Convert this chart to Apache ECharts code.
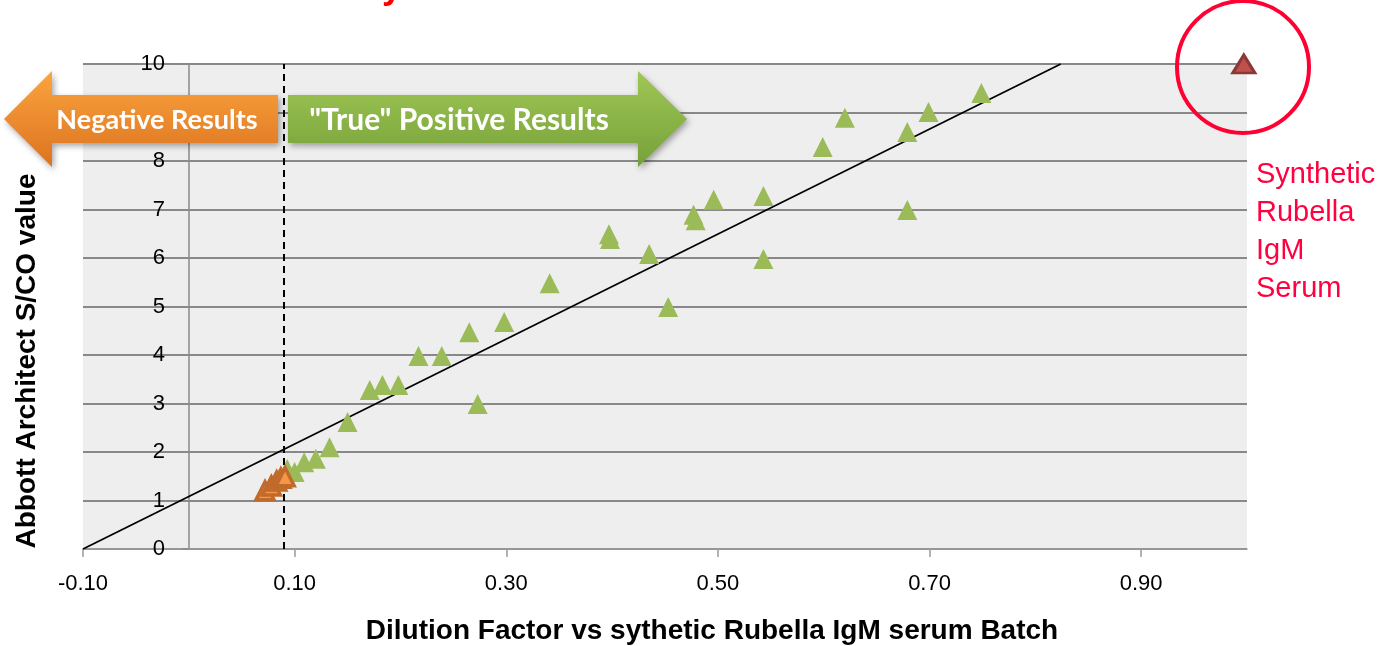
<!DOCTYPE html>
<html>
<head>
<meta charset="utf-8">
<script src="https://cdn.jsdelivr.net/npm/echarts@6/dist/echarts.min.js"></script>
<style>
  html, body { margin: 0; padding: 0; background: #fff; }
  #chart { width: 1393px; height: 646px; }
</style>
</head>
<body>
<div id="chart"></div>
<script>
// positive batch dilutions
const greenX = [0.749, 0.699, 0.620, 0.679, 0.599, 0.543, 0.496, 0.477, 0.479, 0.679,
  0.397, 0.398, 0.435, 0.543, 0.341, 0.453, 0.298, 0.265, 0.217, 0.239,
  0.273, 0.183, 0.171, 0.198, 0.150, 0.133, 0.120, 0.109, 0.100, 0.093]
const greenY = [9.40, 9.01, 8.89, 8.60, 8.29, 7.28, 7.20, 6.89, 6.78, 6.99,
  6.49, 6.39, 6.08, 5.98, 5.48, 4.99, 4.68, 4.47, 3.98, 3.98,
  2.99, 3.38, 3.28, 3.38, 2.62, 2.10, 1.86, 1.79, 1.59, 1.65]

// negative results
const orangeX = [0.072, 0.078, 0.083, 0.087, 0.091]
const orangeY = [1.20, 1.30, 1.40, 1.46, 1.49]

// undiluted synthetic serum
const synthX = [0.997]
const synthY = [10.0]

// linear trend
const trendX = [-0.1, 0.824]
const trendY = [0, 10]

const cutoff = 0.09

const zip = (xs, ys) => xs.map((x, i) => [x, ys[i]])

const chart = echarts.init(document.getElementById('chart'))

const arrowText = {
  fill: '#fff',
  fontFamily: 'Lato',
  fontWeight: 'bold',
  align: 'center',
  verticalAlign: 'middle'
}

const option = {
  animation: false,
  grid: { left: 83, right: 146, top: 64, bottom: 97, backgroundColor: '#eeeeee', show: true, borderWidth: 0 },
  xAxis: {
    type: 'value',
    min: -0.1,
    max: 1.0,
    interval: 0.2,
    axisLine: { show: true, onZero: false, lineStyle: { color: '#9a9a9a', width: 1.5 } },
    axisTick: { show: true, length: 8, lineStyle: { color: '#9a9a9a', width: 1.5 } },
    splitLine: { show: false },
    axisLabel: {
      color: '#000', fontSize: 22, fontFamily: 'Liberation Sans', margin: 24,
      showMaxLabel: false,
      formatter: v => v.toFixed(2)
    }
  },
  yAxis: {
    type: 'value',
    min: 0,
    max: 10,
    interval: 1,
    offset: -106,
    axisLine: { show: true, onZero: false, lineStyle: { color: '#8a8a8a', width: 1.5 } },
    axisTick: { show: true, length: 7, lineStyle: { color: '#8a8a8a', width: 1.5 } },
    splitLine: { show: true, lineStyle: { color: '#888', width: 2 } },
    axisLabel: { color: '#000', fontSize: 22, fontFamily: 'Liberation Sans', margin: 24 }
  },
  series: [
    {
      type: 'line',
      data: zip(trendX, trendY),
      symbol: 'none',
      lineStyle: { color: '#000', width: 1.8 },
      z: 3,
      markLine: {
        silent: true,
        symbol: 'none',
        label: { show: false },
        lineStyle: { color: '#000', type: [7, 5], width: 2 },
        data: [{ xAxis: cutoff }]
      }
    },
    {
      type: 'scatter',
      data: zip(greenX, greenY),
      symbol: 'triangle',
      symbolSize: 20,
      itemStyle: { color: '#9bbb59', opacity: 1 },
      z: 4
    },
    {
      type: 'scatter',
      data: zip(orangeX, orangeY),
      symbol: 'triangle',
      symbolSize: 18,
      itemStyle: { color: '#f79646', borderColor: '#c06a2b', borderWidth: 3.5, opacity: 1 },
      z: 5
    },
    {
      type: 'scatter',
      data: zip(synthX, synthY),
      symbol: 'triangle',
      symbolSize: [22, 18],
      itemStyle: { color: '#c0504d', borderColor: '#8c3836', borderWidth: 3, opacity: 1 },
      z: 5
    }
  ],
  graphic: [
    {
      type: 'text', z: 100, left: 22, top: -30,
      style: {
        text: '{a|Can be Detected }{b|Early}{a| on the Abbott Architect}',
        rich: {
          a: { fill: '#404040', fontSize: 36, fontWeight: 'bold', fontFamily: 'Liberation Sans' },
          b: { fill: '#ff0000', fontSize: 36, fontWeight: 'bold', fontFamily: 'Liberation Sans' }
        }
      }
    },
    {
      type: 'polygon', z: 100,
      shape: { points: [[4, 119], [52, 71], [52, 95], [278, 95], [278, 143], [52, 143], [52, 167]] },
      style: {
        fill: new echarts.graphic.LinearGradient(0, 0, 0, 1, [
          { offset: 0, color: '#fba43f' }, { offset: 1, color: '#dc731f' }
        ]),
        shadowBlur: 6, shadowOffsetX: 2, shadowOffsetY: 3, shadowColor: 'rgba(0,0,0,0.35)'
      }
    },
    { type: 'text', z: 101, x: 157, y: 120, style: Object.assign({ text: 'Negative Results', fontSize: 27 }, arrowText) },
    {
      type: 'polygon', z: 100,
      shape: { points: [[288, 95], [638, 95], [638, 71], [687, 119], [638, 167], [638, 143], [288, 143]] },
      style: {
        fill: new echarts.graphic.LinearGradient(0, 0, 0, 1, [
          { offset: 0, color: '#a0c755' }, { offset: 1, color: '#76a13a' }
        ]),
        shadowBlur: 6, shadowOffsetX: 2, shadowOffsetY: 3, shadowColor: 'rgba(0,0,0,0.35)'
      }
    },
    { type: 'text', z: 101, x: 459, y: 120, style: Object.assign({ text: '"True" Positive Results', fontSize: 30 }, arrowText) },
    {
      type: 'circle', z: 100,
      shape: { cx: 1243, cy: 67, r: 66 },
      style: { fill: 'none', stroke: '#ff0033', lineWidth: 4 }
    },
    {
      type: 'text', z: 100, x: 1256, y: 156,
      style: {
        text: 'Synthetic\nRubella\nIgM\nSerum',
        fill: '#ff0040', fontSize: 29, lineHeight: 38, fontFamily: 'Liberation Sans',
        align: 'left', verticalAlign: 'top'
      }
    },
    {
      type: 'text', z: 100, x: 27, y: 361, rotation: Math.PI / 2,
      style: {
        text: 'Abbott Architect S/CO value',
        fill: '#000', fontSize: 28, fontWeight: 'bold', fontFamily: 'Liberation Sans',
        align: 'center', verticalAlign: 'middle'
      }
    },
    {
      type: 'text', z: 100, x: 712, y: 631,
      style: {
        text: 'Dilution Factor vs sythetic Rubella IgM serum Batch',
        fill: '#000', fontSize: 28, fontWeight: 'bold', fontFamily: 'Liberation Sans',
        align: 'center', verticalAlign: 'middle'
      }
    }
  ]
}

chart.setOption(option)
</script>
</body>
</html>
